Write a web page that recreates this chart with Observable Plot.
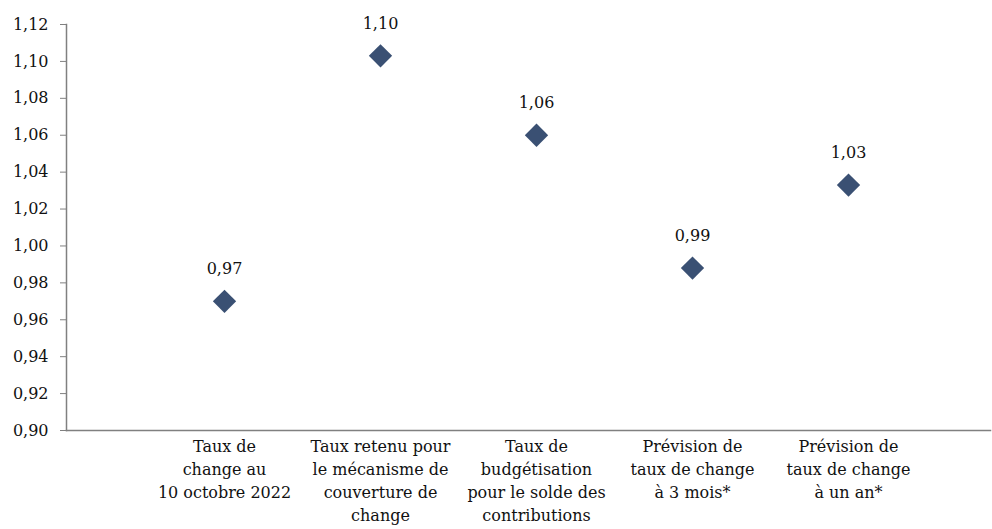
<!DOCTYPE html>
<html>
<head>
<meta charset="utf-8">
<script src="https://cdn.jsdelivr.net/npm/d3@7"></script>
<script src="https://cdn.jsdelivr.net/npm/@observablehq/plot@0.6"></script>
<style>
  html, body { margin: 0; padding: 0; background: #fff; }
  #chart svg { display: block; }
</style>
</head>
<body>
<div id="chart"></div>
<script>
const categories = [
  "Taux de\nchange au\n10 octobre 2022",
  "Taux retenu pour\nle mécanisme de\ncouverture de\nchange",
  "Taux de\nbudgétisation\npour le solde des\ncontributions",
  "Prévision de\ntaux de change\nà 3 mois*",
  "Prévision de\ntaux de change\nà un an*"
];
const values = [0.970, 1.103, 1.060, 0.988, 1.033];
const valueLabels = ["0,97", "1,10", "1,06", "0,99", "1,03"];
const yTicks = [0.90, 0.92, 0.94, 0.96, 0.98, 1.00, 1.02, 1.04, 1.06, 1.08, 1.10, 1.12];

const data = categories.map((c, i) => ({ cat: c, value: values[i], label: valueLabels[i] }));
const font = "'DejaVu Serif', 'Liberation Serif', serif";
const fmt = d => d.toFixed(2).replace(".", ",");
const fs = 16;

const chart = Plot.plot({
  width: 992,
  height: 529,
  marginLeft: 66,
  marginRight: 2,
  marginTop: 24,
  marginBottom: 99,
  style: { fontFamily: font, fontSize: fs + "px", color: "#111", background: "#fff" },
  x: { type: "point", domain: categories, range: [223, 848], padding: 0, label: null },
  y: { domain: [0.90, 1.12], label: null },
  marks: [
    Plot.axisY({ ticks: yTicks, tickFormat: fmt, tickSize: 6, tickPadding: 12, stroke: "#808080", fill: "#111", fontSize: fs, label: null }),
    Plot.axisX({ tickSize: 0, tickPadding: 5, fontSize: fs, lineHeight: 1.44, fill: "#111", textAnchor: "middle", label: null }),
    Plot.frame({ anchor: "left", stroke: "#808080", strokeWidth: 1.5 }),
    Plot.frame({ anchor: "bottom", stroke: "#808080", strokeWidth: 1.5 }),
    Plot.dot(data, { x: "cat", y: "value", symbol: "diamond2", r: 10.5, fill: "#3a5073", stroke: "none" }),
    Plot.text(data, { x: "cat", y: "value", text: "label", dy: -32, fontSize: fs, fill: "#111" })
  ]
});
document.getElementById("chart").appendChild(chart);
</script>
</body>
</html>
